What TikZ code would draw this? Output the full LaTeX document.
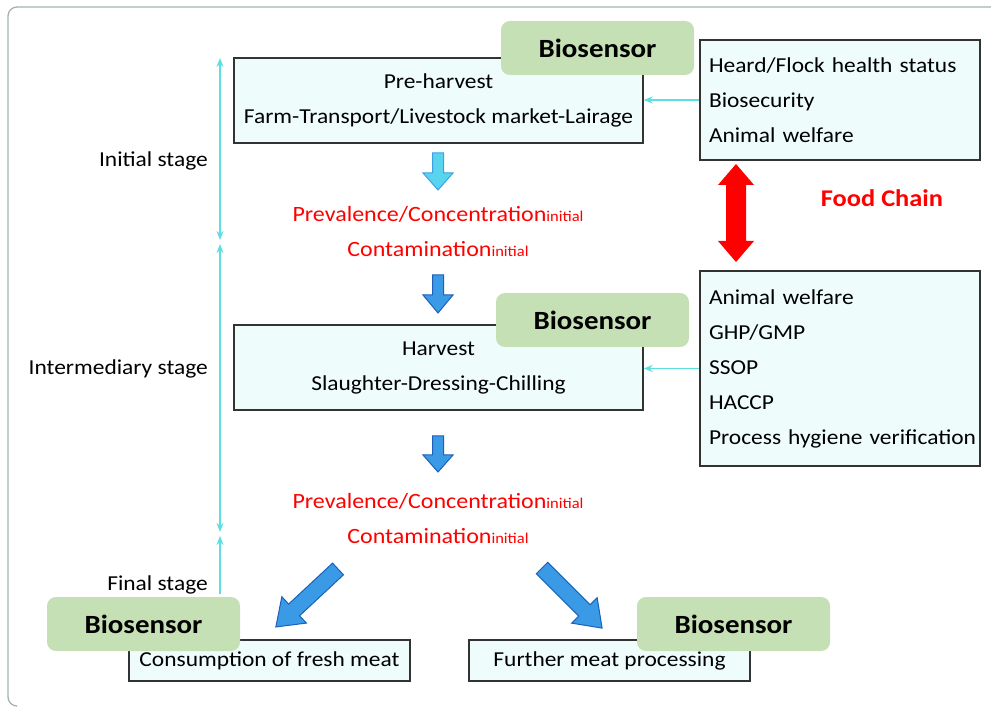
\documentclass[tikz,border=0pt]{standalone}
\usepackage{fontspec}
\setmainfont{Carlito}[FakeStretch=1.1]
\usetikzlibrary{arrows.meta}
\definecolor{boxfill}{RGB}{238,252,252}
\definecolor{biofill}{RGB}{197,224,180}
\definecolor{cyanln}{RGB}{95,222,226}
\definecolor{frame}{RGB}{165,176,176}
\definecolor{arrfill}{RGB}{58,154,230}
\definecolor{arrdraw}{RGB}{30,95,185}
\definecolor{arrlight}{RGB}{88,212,238}
\definecolor{arrlightdraw}{RGB}{60,160,225}
\definecolor{txtred}{RGB}{255,0,0}
\newcommand{\normtxt}{\fontsize{21.3}{35}\selectfont}
\newcommand{\redtxt}{\fontsize{21.8}{26}\selectfont}
\newcommand{\smalltxt}{\fontsize{15}{16}\selectfont}
\begin{document}
\begin{tikzpicture}[x=1pt,y=-1pt,
  stagebox/.style={draw=black!80, line width=1.4pt, fill=boxfill, inner sep=0pt, align=center, font=\normtxt},
  listbox/.style={draw=black!80, line width=1.4pt, fill=boxfill, inner xsep=9pt, inner ysep=0pt, text width=262pt, align=left, font=\normtxt},
  biobox/.style={fill=biofill, rounded corners=9pt, minimum width=193pt, minimum height=54pt, inner sep=0pt, font=\fontsize{26.3}{30}\selectfont\bfseries},
  cyanarrow/.style={draw=cyanln, line width=1.5pt, -{Stealth[length=9pt,width=7pt]}},
  cyanboth/.style={draw=cyanln, line width=1.5pt, {Stealth[length=9pt,width=7pt]}-{Stealth[length=9pt,width=7pt]}},
  stagelbl/.style={anchor=east, font=\normtxt, inner sep=0pt},
  redlbl/.style={text=txtred, font=\redtxt, inner sep=0pt},
  blockblue/.style={fill=arrfill, draw=arrdraw, line width=1pt, line join=miter},
  blocklight/.style={fill=arrlight, draw=arrlightdraw, line width=1pt, line join=miter}
]
\useasboundingbox (0,0) rectangle (991,708);
% outer frame
\draw[frame, line width=1.3pt, rounded corners=9pt] (991,7) -- (8,7) -- (8,706) -- (16,706);

% stage boxes
\node[stagebox, minimum width=409pt, minimum height=85pt] (pre) at (438.5,100.5) {Pre-harvest\\Farm-Transport/Livestock market-Lairage};
\node[stagebox, minimum width=409pt, minimum height=85pt] (harv) at (438.5,367.5) {Harvest\\Slaughter-Dressing-Chilling};
\node[stagebox, minimum width=281pt, minimum height=41pt] (cons) at (269.5,660.5) {Consumption of fresh meat};
\node[stagebox, minimum width=281pt, minimum height=41pt] (furt) at (609.5,660.5) {Further meat processing};

% list boxes
\node[listbox, minimum height=120pt] (rb1) at (840,100) {Heard/Flock health status\\Biosecurity\\Animal welfare};
\node[listbox, minimum height=195pt] (rb2) at (840,368.5) {Animal welfare\\GHP/GMP\\SSOP\\HACCP\\\mbox{Process hygiene verification}};

% cyan connectors
\draw[cyanarrow] (rb1.west) -- (rb1.west -| pre.east);
\draw[cyanarrow] (rb2.west) -- (rb2.west -| harv.east);

% biosensors
\node[biobox] (bio1) at (597.5,48) {Biosensor};
\node[biobox] (bio2) at (592.5,320) {Biosensor};
\node[biobox] (bio3) at (143.5,624) {Biosensor};
\node[biobox] (bio4) at (733.5,624) {Biosensor};

% red texts
\node[redlbl] (p1) at (438,214) {Prevalence/Concentration{\smalltxt initial}};
\node[redlbl] (c1) at (438,249) {Contamination{\smalltxt initial}};
\node[redlbl] (p2) at (438,501) {Prevalence/Concentration{\smalltxt initial}};
\node[redlbl] (c2) at (438,536) {Contamination{\smalltxt initial}};

% down block arrows
\draw[blocklight] (432.5,153) -- (443.5,153) -- (443.5,173) -- (453,173) -- (438,190) -- (423,173) -- (432.5,173) -- cycle;
\draw[blockblue] (432.5,275) -- (443.5,275) -- (443.5,295) -- (453,295) -- (438,313) -- (423,295) -- (432.5,295) -- cycle;
\draw[blockblue] (432.5,436) -- (443.5,436) -- (443.5,455) -- (453,455) -- (438,472) -- (423,455) -- (432.5,455) -- cycle;

% diagonal block arrows
\begin{scope}[shift={(338,569)}, rotate=-137]
\draw[blockblue] (0,-8) -- (60,-8) -- (60,-18) -- (85,0) -- (60,18) -- (60,8) -- (0,8) -- cycle;
\end{scope}
\begin{scope}[shift={(542,568)}, rotate=-45]
\draw[blockblue] (0,-8) -- (60,-8) -- (60,-18) -- (85,0) -- (60,18) -- (60,8) -- (0,8) -- cycle;
\end{scope}

% food chain double arrow
\fill[red] (726,185) -- (726,241) -- (718,241) -- (736,262) -- (754,241) -- (746,241) -- (746,185) -- (754,185) -- (736,164) -- (718,185) -- cycle;
\node[text=txtred, font=\fontsize{24}{28}\selectfont\bfseries, inner sep=0pt] (fc) at (882,198) {Food Chain};

% stage arrows and labels
\coordinate (s1a) at (220,58);
\coordinate (s1b) at (220,240);
\coordinate (s2a) at (220,244);
\coordinate (s2b) at (220,532);
\coordinate (s3a) at (220,536);
\coordinate (s3b) at (220,594);
\draw[cyanboth] (s1a) -- (s1b);
\draw[cyanboth] (s2a) -- (s2b);
\draw[cyanarrow] (s3b) -- (s3a);
\node[stagelbl] (l1) at (208,161) {Initial stage};
\node[stagelbl] (l2) at (208,369) {Intermediary stage};
\node[stagelbl] (l3) at (208,585) {Final stage};
\end{tikzpicture}
\end{document}
